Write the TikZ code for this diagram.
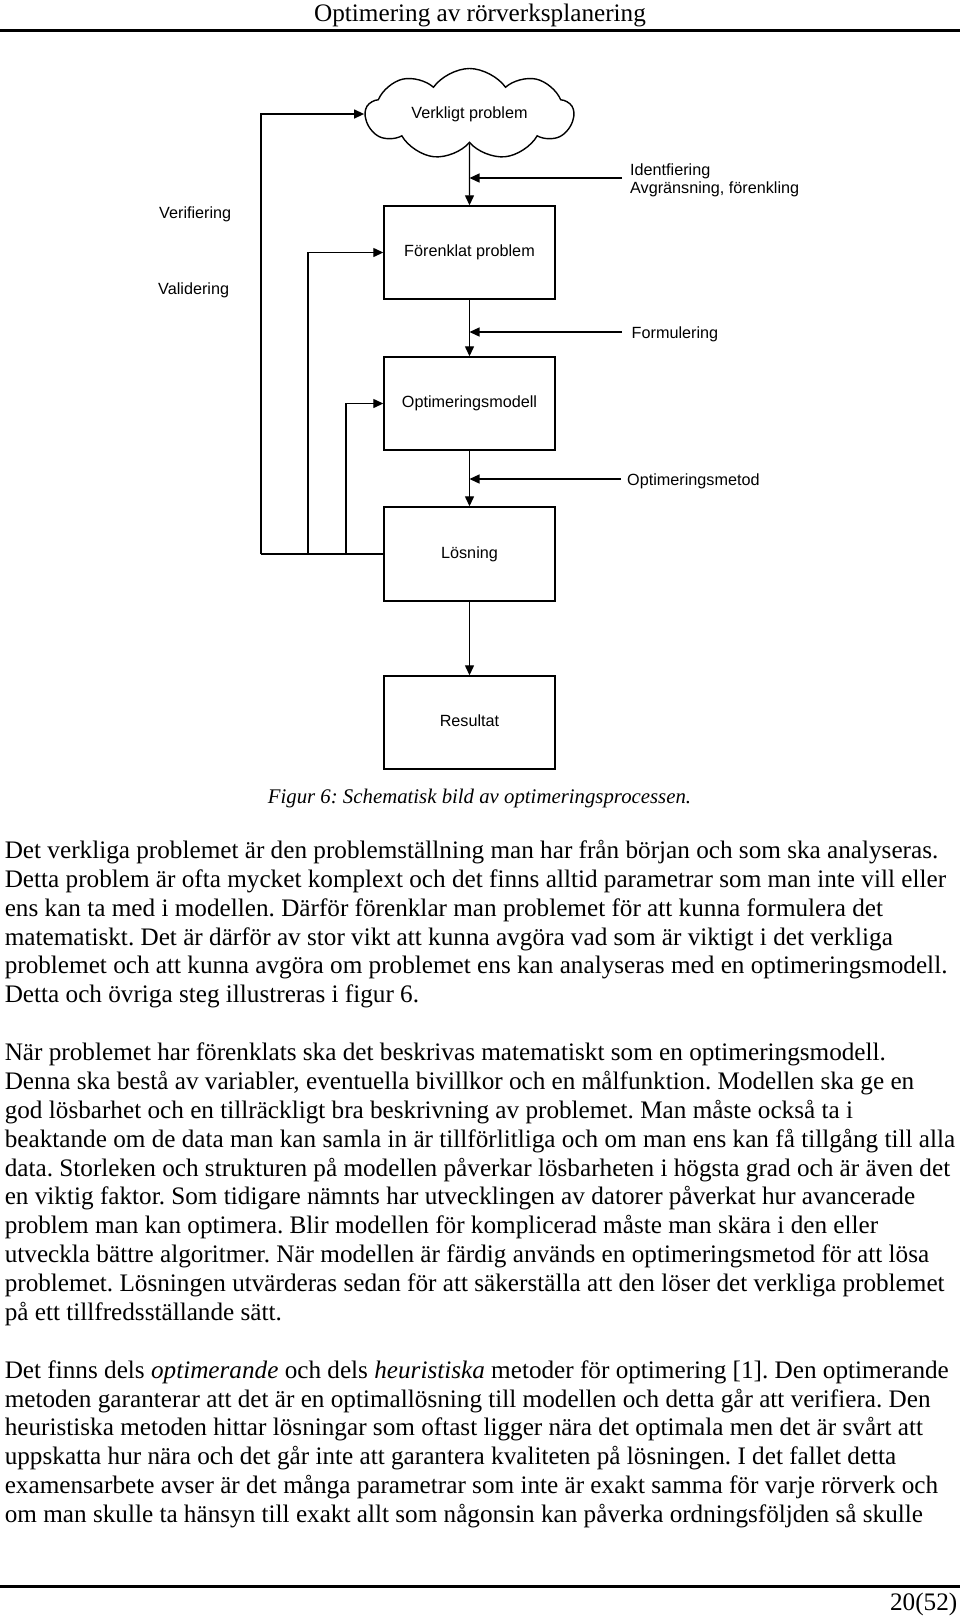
\documentclass[tikz,border=0pt]{standalone}
\usepackage{fontspec}
\setmainfont{Liberation Serif}
\newfontfamily\arialfont{Liberation Sans}
\usetikzlibrary{arrows.meta,shapes.symbols}
\newcommand{\bodyfont}{\frenchspacing\fontsize{25.2}{28.87}\selectfont}
\newcommand{\capfont}{\frenchspacing\itshape\fontsize{20.8}{24}\selectfont}
\newcommand{\diafont}{\arialfont\fontsize{16.2}{19}\selectfont}
\tikzset{
  body/.style={anchor=base west, inner sep=0pt, font=\bodyfont},
  lab/.style={anchor=base west, inner sep=0pt, font=\diafont},
  stepbox/.style={draw, line width=1.4pt, minimum width=171pt, minimum height=93pt,
    inner sep=0pt, font=\diafont, text height=11.6pt, text depth=3.4pt},
  conn/.style={line width=1.3pt},
  arr/.style={line width=1.3pt, -{Triangle[length=10pt,width=9pt]}},
  rule/.style={line width=3pt}
}
\begin{document}
\begin{tikzpicture}[x=1pt,y=-1pt]
\useasboundingbox (0,0) rectangle (960,1617);
% header and footer
\node[anchor=base, inner sep=0pt, font=\bodyfont] (head) at (480,21) {Optimering av rörverksplanering};
\coordinate (hl) at (0,30.5); \coordinate (hr) at (960,30.5);
\draw[rule] (hl) -- (hr);
\coordinate (fl) at (0,1586.5); \coordinate (fr) at (960,1586.5);
\draw[rule] (fl) -- (fr);
\node[anchor=base east, inner sep=0pt, font=\bodyfont] (pnum) at (957.5,1610.5) {20(52)};

% diagram
\node[cloud, draw, line width=1.4pt, cloud puffs=9, cloud puff arc=110, aspect=2.5,
  minimum width=208pt, minimum height=82pt, inner sep=0pt, font=\diafont] (real) at (469.5,114) {Verkligt problem};
\node[stepbox] (forenk) at (469.5,252.5) {Förenklat problem};
\node[stepbox] (optmod) at (469.5,403.5) {Optimeringsmodell};
\node[stepbox, minimum height=94pt] (los) at (469.5,554) {Lösning};
\node[stepbox] (res) at (469.5,722.5) {Resultat};

\draw[arr] (real.south) -- (forenk.north);
\draw[arr] (forenk.south) -- (optmod.north);
\draw[arr] (optmod.south) -- (los.north);
\draw[arr] (los.south) -- (res.north);

\coordinate (s1) at (622,178);
\coordinate (s2) at (622,332);
\coordinate (s3) at (621,479);
\draw[arr] (s1) -- (s1 -| forenk.north);
\draw[arr] (s2) -- (s2 -| optmod.north);
\draw[arr] (s3) -- (s3 -| los.north);

\node[lab] (lid) at (630,175) {Identfiering};
\node[lab] (lav) at (630,193.3) {Avgränsning, förenkling};
\node[lab] (lform) at (631.5,338.5) {Formulering};
\node[lab] (lmet) at (627,485) {Optimeringsmetod};

\coordinate (v1) at (261,0);
\coordinate (v2) at (308,0);
\coordinate (v3) at (346,0);
\draw[conn] (los.west) -- (los.west -| v1);
\draw[arr] (los.west -| v1) |- (real.west);
\draw[arr] (los.west -| v2) |- (forenk.west);
\draw[arr] (los.west -| v3) |- (optmod.west);

\node[lab] (lver) at (159,218.6) {Verifiering};
\node[lab] (lval) at (158,294) {Validering};

% caption
\node[anchor=base, inner sep=0pt, font=\capfont] (cap) at (479.5,803) {Figur 6: Schematisk bild av optimeringsprocessen.};

% body text
\node[body] (p1a) at (4.6,858.5) {Det verkliga problemet är den problemställning man har från början och som ska analyseras.};
\node[body] (p1b) at (4.6,887.37) {Detta problem är ofta mycket komplext och det finns alltid parametrar som man inte vill eller};
\node[body] (p1c) at (4.6,916.24) {ens kan ta med i modellen. Därför förenklar man problemet för att kunna formulera det};
\node[body] (p1d) at (4.6,945.11) {matematiskt. Det är därför av stor vikt att kunna avgöra vad som är viktigt i det verkliga};
\node[body] (p1e) at (4.6,973.98) {problemet och att kunna avgöra om problemet ens kan analyseras med en optimeringsmodell.};
\node[body] (p1f) at (4.6,1002.85) {Detta och övriga steg illustreras i figur 6.};

\node[body] (p2a) at (4.6,1060.59) {När problemet har förenklats ska det beskrivas matematiskt som en optimeringsmodell.};
\node[body] (p2b) at (4.6,1089.46) {Denna ska bestå av variabler, eventuella bivillkor och en målfunktion. Modellen ska ge en};
\node[body] (p2c) at (4.6,1118.33) {god lösbarhet och en tillräckligt bra beskrivning av problemet. Man måste också ta i};
\node[body] (p2d) at (4.6,1147.2) {beaktande om de data man kan samla in är tillförlitliga och om man ens kan få tillgång till alla};
\node[body] (p2e) at (4.6,1176.07) {data. Storleken och strukturen på modellen påverkar lösbarheten i högsta grad och är även det};
\node[body] (p2f) at (4.6,1204.94) {en viktig faktor. Som tidigare nämnts har utvecklingen av datorer påverkat hur avancerade};
\node[body] (p2g) at (4.6,1233.81) {problem man kan optimera. Blir modellen för komplicerad måste man skära i den eller};
\node[body] (p2h) at (4.6,1262.68) {utveckla bättre algoritmer. När modellen är färdig används en optimeringsmetod för att lösa};
\node[body] (p2i) at (4.6,1291.55) {problemet. Lösningen utvärderas sedan för att säkerställa att den löser det verkliga problemet};
\node[body] (p2j) at (4.6,1320.42) {på ett tillfredsställande sätt.};

\node[body] (p3a) at (4.6,1378.16) {Det finns dels \textit{optimerande} och dels \textit{heuristiska} metoder för optimering [1]. Den optimerande};
\node[body] (p3b) at (4.6,1407.03) {metoden garanterar att det är en optimallösning till modellen och detta går att verifiera. Den};
\node[body] (p3c) at (4.6,1435.9) {heuristiska metoden hittar lösningar som oftast ligger nära det optimala men det är svårt att};
\node[body] (p3d) at (4.6,1464.77) {uppskatta hur nära och det går inte att garantera kvaliteten på lösningen. I det fallet detta};
\node[body] (p3e) at (4.6,1493.64) {examensarbete avser är det många parametrar som inte är exakt samma för varje rörverk och};
\node[body] (p3f) at (4.6,1522.51) {om man skulle ta hänsyn till exakt allt som någonsin kan påverka ordningsföljden så skulle};
\end{tikzpicture}
\end{document}
